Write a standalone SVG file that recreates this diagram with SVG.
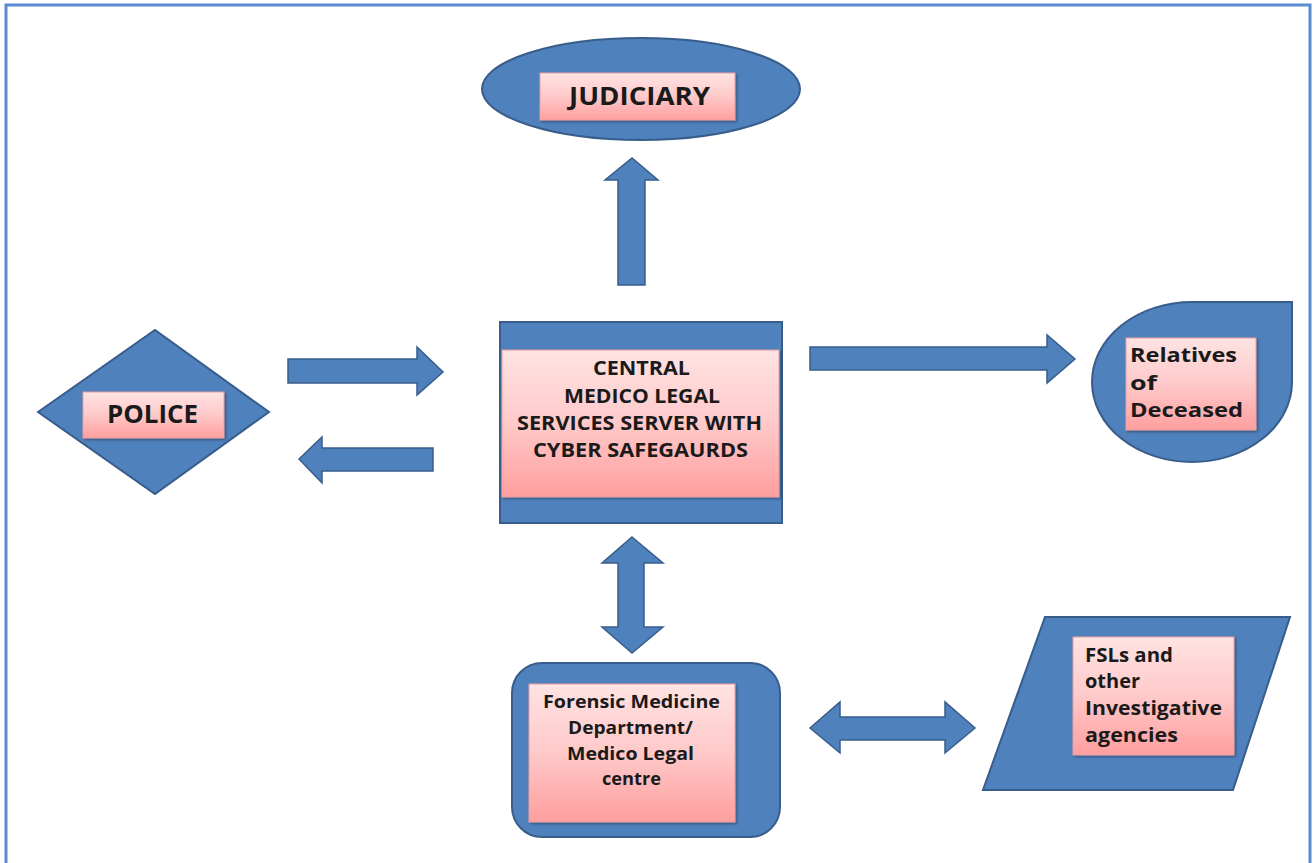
<svg xmlns="http://www.w3.org/2000/svg" width="1313" height="863" viewBox="0 0 1313 863">
<defs>
<linearGradient id="pink" x1="0" y1="0" x2="0" y2="1">
<stop offset="0" stop-color="#FFE3E3"/>
<stop offset="0.5" stop-color="#FFC9C9"/>
<stop offset="1" stop-color="#FF9E9E"/>
</linearGradient>
<filter id="sh" x="-10%" y="-10%" width="130%" height="130%">
<feDropShadow dx="1.5" dy="1.5" stdDeviation="1.2" flood-color="#000" flood-opacity="0.35"/>
</filter>
</defs>
<style>
.shape{fill:#4F81BD;stroke:#385D8A;stroke-width:2}
.arrow{fill:#4F81BD;stroke:#385D8A;stroke-width:1.5}
.label{fill:url(#pink);stroke:#E8A0A0;stroke-width:1;filter:url(#sh)}
.t{font-family:"Open Sans","Liberation Sans",sans-serif;font-weight:bold;fill:#1A1A1A}
.c{font-size:19.5px}
.r{font-size:19px}
.f{font-size:17px}
</style>
<rect x="6" y="5" width="1304" height="870" fill="#FFFFFF" stroke="#5B8BD0" stroke-width="3"/>

<g id="connectors">
<path class="arrow" d="M618,285 V180 H605 L632,158 L658,180 H645 V285 Z"/>
<path class="arrow" d="M288,359 H417 V347 L443,372 L417,395 V383 H288 Z"/>
<path class="arrow" d="M433,448 H322 V437 L299,459 L322,483 V471 H433 Z"/>
<path class="arrow" d="M810,347 H1047 V335 L1075,359 L1047,383 V370 H810 Z"/>
<path class="arrow" d="M632,537 L663,563 H644 V627 H663 L632,653 L602,627 H618 V563 H602 Z"/>
<path class="arrow" d="M810,728 L840,702 V717 H945 V702 L975,728 L945,753 V740 H840 V753 Z"/>
</g>

<g id="judiciary">
<ellipse class="shape" cx="641" cy="89" rx="159" ry="51"/>
<rect class="label" x="540" y="73" width="195" height="47"/>
<text class="t" x="569" y="105" font-size="25" textLength="141" lengthAdjust="spacingAndGlyphs">JUDICIARY</text>
</g>

<g id="police">
<polygon class="shape" points="38,412 155,330 269,412 155,494"/>
<rect class="label" x="83" y="392" width="141" height="46"/>
<text class="t" x="107" y="423" font-size="25" textLength="91" lengthAdjust="spacingAndGlyphs">POLICE</text>
</g>

<g id="central">
<rect class="shape" x="500" y="322" width="282" height="201"/>
<rect class="label" x="502" y="350" width="277" height="147"/>
<text class="t c" x="593" y="375" textLength="97" lengthAdjust="spacingAndGlyphs">CENTRAL</text>
<text class="t c" x="564" y="403" textLength="156" lengthAdjust="spacingAndGlyphs">MEDICO LEGAL</text>
<text class="t c" x="517" y="430" textLength="245" lengthAdjust="spacingAndGlyphs">SERVICES SERVER WITH</text>
<text class="t c" x="533" y="457" textLength="215" lengthAdjust="spacingAndGlyphs">CYBER SAFEGAURDS</text>
</g>

<g id="relatives">
<path class="shape" d="M1192,302 H1292 V382 A100,80 0 1,1 1192,302 Z"/>
<rect class="label" x="1126" y="338" width="130" height="92"/>
<text class="t r" x="1130" y="362" textLength="107" lengthAdjust="spacingAndGlyphs">Relatives</text>
<text class="t r" x="1130" y="390" textLength="27" lengthAdjust="spacingAndGlyphs">of</text>
<text class="t r" x="1130" y="417" textLength="113" lengthAdjust="spacingAndGlyphs">Deceased</text>
</g>

<g id="forensic">
<rect class="shape" x="512" y="663" width="268" height="174" rx="30" ry="30"/>
<rect class="label" x="529" y="684" width="206" height="138"/>
<text class="t f" x="543" y="708" textLength="177" lengthAdjust="spacingAndGlyphs">Forensic Medicine</text>
<text class="t f" x="568" y="734" textLength="125" lengthAdjust="spacingAndGlyphs">Department/</text>
<text class="t f" x="567" y="760" textLength="127" lengthAdjust="spacingAndGlyphs">Medico Legal</text>
<text class="t f" x="602" y="785" textLength="59" lengthAdjust="spacingAndGlyphs">centre</text>
</g>

<g id="fsl">
<polygon class="shape" points="1045,617 1290,617 1233,790 983,790"/>
<rect class="label" x="1073" y="637" width="161" height="118"/>
<text class="t r" x="1085" y="662" textLength="88" lengthAdjust="spacingAndGlyphs">FSLs and</text>
<text class="t r" x="1085" y="688" textLength="55" lengthAdjust="spacingAndGlyphs">other</text>
<text class="t r" x="1085" y="715" textLength="137" lengthAdjust="spacingAndGlyphs">Investigative</text>
<text class="t r" x="1085" y="742" textLength="93" lengthAdjust="spacingAndGlyphs">agencies</text>
</g>
</svg>
